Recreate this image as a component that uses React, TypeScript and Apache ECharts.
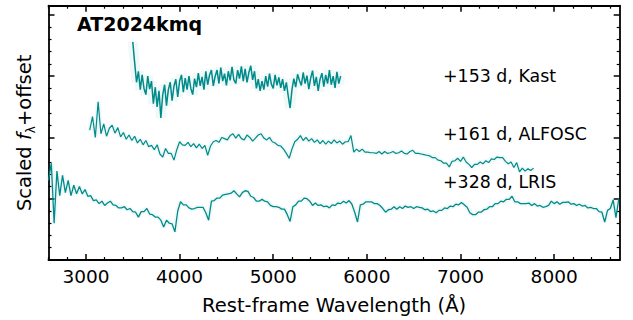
import React, { useEffect, useRef } from "react";
import * as echarts from "echarts";

// ---------- data ----------
const xMajorTicks = [3000, 4000, 5000, 6000, 7000, 8000];
const xMinorTicks = [2600, 2800, 3200, 3400, 3600, 3800, 4200, 4400, 4600, 4800, 5200, 5400, 5600, 5800, 6200, 6400, 6600, 6800, 7200, 7400, 7600, 7800, 8200, 8400, 8600];

const spectrumLabels = ["+153 d, Kast", "+161 d, ALFOSC", "+328 d, LRIS"];
const titleText = "AT2024kmq";

// +153 d Kast: start 3500 Å, step 20 Å
const kastStart = 3500;
const kastStep = 20;
const kastFlux = [
  3.56, 3.22, 2.90, 3.08, 2.78, 3.02, 2.80, 2.70, 3.00, 2.79,
  2.92, 2.55, 2.82, 2.50, 2.76, 2.32, 2.70, 2.86, 2.52, 2.78,
  2.90, 2.60, 2.84, 2.95, 2.66, 2.92, 3.02, 2.74, 2.97, 2.78,
  3.00, 2.80, 2.70, 2.96, 2.82, 3.05, 2.84, 2.99, 2.78, 3.08,
  2.86, 3.02, 3.10, 2.84, 3.00, 3.10, 2.88, 3.14, 2.92, 3.04,
  2.85, 3.08, 2.93, 3.15, 2.94, 2.88, 3.10, 2.96, 3.16, 2.92,
  3.12, 2.90, 3.06, 3.17, 2.94, 3.08, 2.80, 2.95, 2.76, 2.92,
  2.78, 3.00, 2.83, 3.04, 2.87, 2.80, 3.02, 2.85, 2.98, 2.81,
  2.95, 2.76, 2.90, 2.68, 2.48, 2.78, 2.96, 2.82, 3.03, 2.93,
  2.85, 3.06, 2.88, 3.01, 2.79, 2.97, 3.09, 2.84, 2.99, 2.76,
  2.95, 3.05, 2.83, 3.02, 2.88, 3.10, 2.86, 3.00, 2.81, 3.07,
  2.88, 3.00,
];

// +161 d ALFOSC: start 3040 Å, step 30 Å
const alfoscStart = 3040;
const alfoscStep = 30;
const alfoscFlux = [
  2.12, 2.34, 2.00, 2.58, 2.06, 2.22, 2.02, 2.15, 2.20, 2.07,
  2.16, 2.01, 2.08, 1.97, 2.04, 1.95, 2.02, 1.91, 1.97, 1.88,
  1.95, 1.85, 1.87, 1.80, 1.88, 1.73, 1.68, 1.82, 1.74, 1.74,
  1.63, 1.80, 1.93, 1.88, 1.87, 1.92, 1.85, 1.90, 1.83, 1.89,
  1.82, 1.87, 1.71, 1.86, 1.93, 1.95, 1.92, 2.00, 1.98, 1.96,
  2.03, 2.06, 1.99, 2.05, 1.98, 1.96, 2.04, 2.00, 1.94, 1.99,
  2.04, 2.06, 1.99, 1.96, 2.00, 1.93, 1.91, 1.87, 1.86, 1.81,
  1.74, 1.66, 1.81, 1.93, 1.97, 2.03, 1.95, 2.00, 1.94, 1.98,
  1.92, 1.96, 1.90, 1.95, 1.89, 1.94, 1.90, 1.96, 1.91, 1.94,
  1.89, 1.93, 1.93, 2.03, 1.76, 1.81, 1.77, 1.81, 1.76, 1.76,
  1.75, 1.75, 1.74, 1.77, 1.73, 1.77, 1.74, 1.75, 1.77, 1.74,
  1.75, 1.78, 1.74, 1.73, 1.77, 1.79, 1.74, 1.74, 1.73, 1.72,
  1.71, 1.70, 1.67, 1.67, 1.63, 1.62, 1.58, 1.58, 1.52, 1.61,
  1.62, 1.66, 1.61, 1.68, 1.60, 1.56, 1.51, 1.56, 1.56, 1.60,
  1.57, 1.62, 1.59, 1.65, 1.64, 1.68, 1.67, 1.67, 1.61, 1.57,
  1.60, 1.51, 1.59, 1.44, 1.50, 1.45, 1.49, 1.46, 1.50,
];

// +328 d LRIS: start 2600 Å, step 30 Å
const lrisStart = 2600;
const lrisStep = 30;
const lrisFlux = [
  1.30, 1.58, 0.60, 1.45, 1.05, 1.38, 1.10, 1.30, 1.05, 1.22,
  1.08, 1.20, 1.08, 1.15, 1.04, 1.05, 0.97, 0.98, 0.92, 0.96,
  0.89, 0.93, 0.96, 0.90, 0.89, 0.85, 0.85, 0.87, 0.82, 0.84,
  0.79, 0.78, 0.70, 0.79, 0.79, 0.84, 0.75, 0.74, 0.70, 0.70,
  0.65, 0.54, 0.65, 0.60, 0.59, 0.46, 0.80, 0.95, 0.90, 0.90,
  0.85, 0.83, 0.84, 0.86, 0.86, 0.86, 0.77, 0.65, 0.96, 0.97,
  1.01, 1.01, 1.06, 1.07, 1.08, 1.09, 1.13, 1.08, 1.03, 1.10,
  1.13, 1.12, 1.04, 1.02, 0.96, 0.96, 0.99, 0.96, 0.95, 0.89,
  0.87, 0.87, 0.86, 0.83, 0.83, 0.74, 0.63, 0.87, 0.90, 0.96,
  0.96, 1.01, 1.00, 0.96, 0.89, 0.93, 0.89, 0.90, 0.87, 0.88,
  0.85, 0.90, 0.89, 0.93, 0.92, 0.96, 0.93, 0.97, 0.91, 0.78,
  0.62, 0.90, 0.91, 0.95, 0.95, 0.95, 0.92, 0.92, 0.89, 0.84,
  0.78, 0.82, 0.83, 0.87, 0.83, 0.87, 0.84, 0.88, 0.86, 0.87,
  0.84, 0.87, 0.86, 0.85, 0.82, 0.83, 0.79, 0.80, 0.77, 0.81,
  0.81, 0.85, 0.84, 0.88, 0.87, 0.91, 0.90, 0.94, 0.90, 0.86,
  0.77, 0.74, 0.74, 0.78, 0.78, 0.82, 0.83, 0.87, 0.87, 0.92,
  0.92, 0.96, 0.95, 0.99, 0.99, 1.04, 0.95, 0.95, 0.92, 0.92,
  0.92, 0.93, 0.89, 0.92, 0.88, 0.89, 0.86, 0.87, 0.89, 0.96,
  0.92, 0.95, 0.91, 0.94, 0.94, 0.95, 0.91, 0.92, 0.89, 0.91,
  0.88, 0.89, 0.85, 0.86, 0.84, 0.84, 0.79, 0.78, 0.62, 0.81,
  0.84, 0.98, 0.69, 1.00,
];

const toPairs = (start: number, step: number, flux: number[]) =>
  flux.map((f, i) => [start + i * step, f]);

const COLOR = "#008b8b";
const FONT = "DejaVu Sans";

export default function App() {
  const ref = useRef<HTMLDivElement>(null);

  useEffect(() => {
    if (!ref.current) return;
    const chart = echarts.init(ref.current, null, { renderer: "svg" });

    const frameLine = { show: true, lineStyle: { color: "#000", width: 1.8 } };
    const xBase = { type: "value", min: 2600, max: 8700, splitLine: { show: false }, gridIndex: 0 };
    const yBase = { type: "value", min: 0, max: 4.15, interval: 1, splitLine: { show: false }, gridIndex: 0 };

    const spectra = [
      { name: "kast", data: toPairs(kastStart, kastStep, kastFlux), band: 10, width: 1.5 },
      { name: "alfosc", data: toPairs(alfoscStart, alfoscStep, alfoscFlux), band: 5, width: 1.2 },
      { name: "lris", data: toPairs(lrisStart, lrisStep, lrisFlux), band: 5, width: 1.3 },
    ];

    const series: any[] = [];
    spectra.forEach((s) => {
      series.push({
        type: "line",
        name: s.name + "-err",
        data: s.data,
        showSymbol: false,
        silent: true,
        lineStyle: { color: COLOR, width: s.band, opacity: 0.06 },
        z: 1,
      });
    });
    spectra.forEach((s) => {
      series.push({
        type: "line",
        name: s.name,
        data: s.data,
        showSymbol: false,
        silent: true,
        lineStyle: { color: COLOR, width: s.width },
        z: 2,
      });
    });

    const option: any = {
      animation: false,
      textStyle: { fontFamily: FONT },
      grid: { left: 48.5, right: 13.3, top: 5.7, bottom: 60, containLabel: false },
      xAxis: [
        {
          ...xBase,
          position: "bottom",
          axisLine: frameLine,
          axisTick: { show: true, inside: true, length: 6, lineStyle: { color: "#000", width: 1.5 }, customValues: xMajorTicks },
          axisLabel: {
            show: true,
            customValues: xMajorTicks,
            formatter: (v: number) => String(v),
            color: "#000",
            fontSize: 18.5,
            fontFamily: FONT,
            margin: 7,
          },
          name: "Rest-frame Wavelength (Å)",
          nameLocation: "middle",
          nameGap: 35,
          nameTextStyle: { color: "#000", fontSize: 19.5, fontFamily: FONT },
        },
        {
          ...xBase,
          position: "bottom",
          axisLine: { show: false },
          axisTick: { show: true, inside: true, length: 3, lineStyle: { color: "#000", width: 1.2 }, customValues: xMinorTicks },
          axisLabel: { show: false },
        },
        {
          ...xBase,
          position: "top",
          axisLine: frameLine,
          axisTick: { show: true, inside: true, length: 6, lineStyle: { color: "#000", width: 1.5 }, customValues: xMajorTicks },
          axisLabel: { show: false },
        },
        {
          ...xBase,
          position: "top",
          axisLine: { show: false },
          axisTick: { show: true, inside: true, length: 3, lineStyle: { color: "#000", width: 1.2 }, customValues: xMinorTicks },
          axisLabel: { show: false },
        },
      ],
      yAxis: [
        {
          ...yBase,
          position: "left",
          axisLine: frameLine,
          axisTick: { show: true, inside: true, length: 6, lineStyle: { color: "#000", width: 1.5 } },
          minorTick: { show: true, splitNumber: 5, length: 3, lineStyle: { color: "#000", width: 1.2 } },
          axisLabel: { show: false },
          name: "Scaled {i|f}{s|λ}+offset",
          nameLocation: "middle",
          nameRotate: 90,
          nameGap: 12,
          nameTextStyle: {
            color: "#000",
            fontSize: 19.5,
            fontFamily: FONT,
            lineHeight: 24,
            rich: {
              i: { fontStyle: "italic", fontSize: 19.5, fontFamily: FONT, color: "#000", lineHeight: 24 },
              s: { fontSize: 12, fontFamily: FONT, color: "#000", verticalAlign: "bottom", lineHeight: 14 },
            },
          },
        },
        {
          ...yBase,
          position: "right",
          axisLine: frameLine,
          axisTick: { show: true, inside: true, length: 6, lineStyle: { color: "#000", width: 1.5 } },
          minorTick: { show: true, splitNumber: 5, length: 3, lineStyle: { color: "#000", width: 1.2 } },
          axisLabel: { show: false },
        },
      ],
      graphic: [
        {
          type: "text",
          left: 77,
          top: 14,
          style: { text: titleText, font: `bold 19px "${FONT}"`, fill: "#000" },
        },
        {
          type: "text",
          left: 443,
          top: 67,
          style: { text: spectrumLabels[0], font: `17.4px "${FONT}"`, fill: "#000" },
        },
        {
          type: "text",
          left: 443,
          top: 125,
          style: { text: spectrumLabels[1], font: `17.4px "${FONT}"`, fill: "#000" },
        },
        {
          type: "text",
          left: 443,
          top: 173,
          style: { text: spectrumLabels[2], font: `17.4px "${FONT}"`, fill: "#000" },
        },
      ],
      series: series.map((s) => ({ ...s, xAxisIndex: 0, yAxisIndex: 0 })),
    };

    chart.setOption(option);
    return () => chart.dispose();
  }, []);

  return <div ref={ref} style={{ width: 633, height: 320, position: "absolute", left: 0, top: 0 }} />;
}
